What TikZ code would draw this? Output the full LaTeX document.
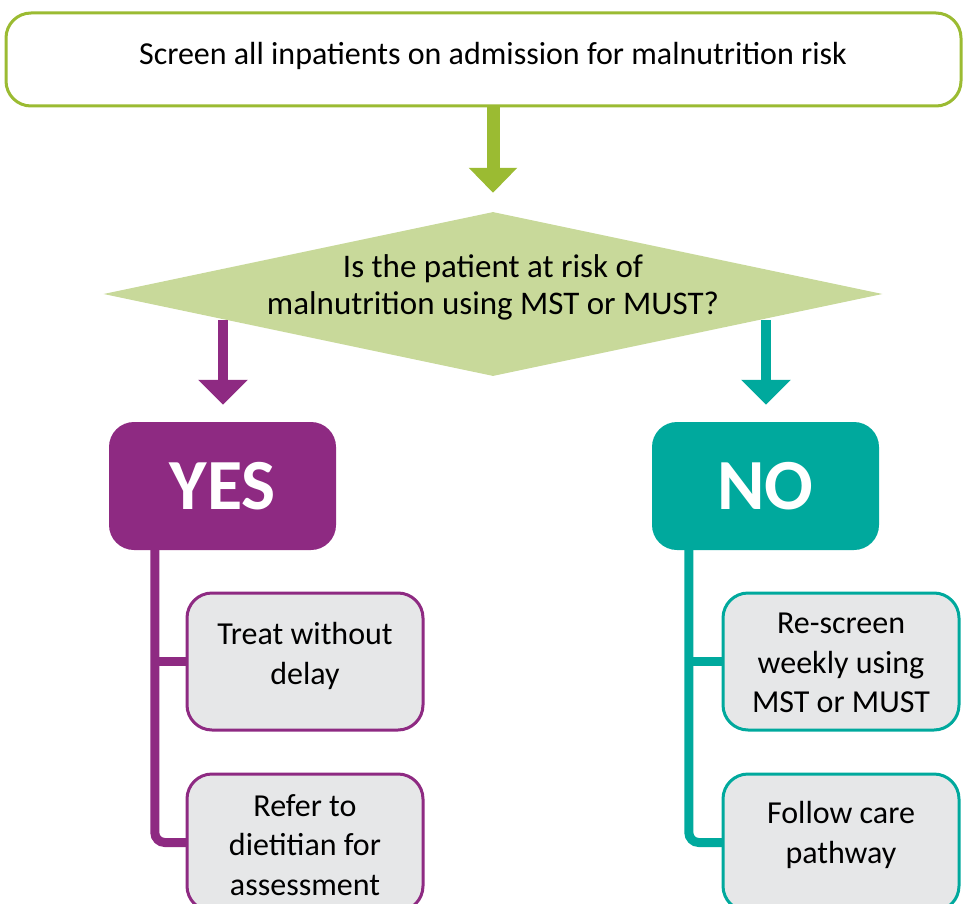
\documentclass[tikz,border=0pt]{standalone}
\usepackage{fontspec}
\setmainfont{Carlito}
\usetikzlibrary{shapes.geometric,arrows.meta}
\definecolor{cgreen}{RGB}{155,187,50}
\definecolor{cdiam}{RGB}{200,217,154}
\definecolor{cpurple}{RGB}{142,42,130}
\definecolor{cteal}{RGB}{0,169,157}
\definecolor{cgrey}{RGB}{230,231,232}
\tikzset{
  topbox/.style={draw=cgreen,line width=3pt,rounded corners=25pt,fill=white,minimum width=955pt,minimum height=93pt,inner sep=0pt},
  bigbox/.style={rounded corners=25pt,minimum width=227pt,minimum height=128pt,inner sep=0pt,text=white,font=\fontsize{72}{80}\selectfont\bfseries},
  subbox/.style={draw=#1,fill=cgrey,line width=3pt,rounded corners=25pt,minimum width=236pt,minimum height=137pt,inner sep=0pt},
  boxtext/.style={align=center,inner sep=0pt,font=\fontsize{32}{39.5}\selectfont},
  bigarrow/.style={draw=#1,line width=10pt,-{Triangle[width=48pt,length=25pt]}},
  stem/.style={draw=#1,line width=9pt},
}
\begin{document}
\begin{tikzpicture}[x=1pt,y=1pt]
\useasboundingbox (0,0) rectangle (963,-904);
% top box
\node[topbox] (screen) at (483.5,-59.5) {};
\node[boxtext,font=\fontsize{32}{38}\selectfont] (screentext) at (493,-56) {Screen all inpatients on admission for malnutrition risk};
% diamond
\node[diamond,fill=cdiam,inner sep=0pt,minimum width=779pt,minimum height=164pt] (question) at (493,-294) {};
\node[boxtext,font=\fontsize{33}{37}\selectfont] (qtext) at (493,-287) {Is the patient at risk of\\malnutrition using MST or MUST?};
% arrow top
\draw[bigarrow=cgreen,line width=13pt,-{Triangle[width=47pt,length=25pt]}] (screen.south -| question.north) -- ([yshift=19pt]question.north);
% yes / no
\node[bigbox,fill=cpurple] (yes) at (222.5,-486) {YES};
\node[bigbox,fill=cteal] (no) at (765.5,-486) {NO};
\coordinate (yesstart) at (223,-320);
\coordinate (nostart) at (766,-320);
\draw[bigarrow=cpurple] (yesstart) -- ([yshift=17pt]yes.north -| yesstart);
\draw[bigarrow=cteal] (nostart) -- ([yshift=17pt]no.north -| nostart);
% sub boxes
\node[subbox=cpurple] (treat) at (305,-661.5) {};
\node[boxtext] (treattext) at (305,-656) {Treat without\\delay};
\node[subbox=cpurple] (refer) at (305,-842.5) {};
\node[boxtext] (refertext) at (305,-845) {Refer to\\dietitian for\\assessment};
\node[subbox=cteal] (rescreen) at (841,-661.5) {};
\node[boxtext] (rescreentext) at (841,-663) {Re-screen\\weekly using\\MST or MUST};
\node[subbox=cteal] (follow) at (841,-842.5) {};
\node[boxtext] (followtext) at (841,-835) {Follow care\\pathway};
% stems
\draw[stem=cpurple,rounded corners=10pt] ([xshift=46pt]yes.south west) |- ([xshift=1.5pt]refer.west);
\draw[stem=cpurple] ([xshift=46pt]yes.south west |- treat.west) -- ([xshift=1.5pt]treat.west);
\draw[stem=cteal,rounded corners=10pt] ([xshift=37pt]no.south west) |- ([xshift=1.5pt]follow.west);
\draw[stem=cteal] ([xshift=37pt]no.south west |- rescreen.west) -- ([xshift=1.5pt]rescreen.west);
\end{tikzpicture}
\end{document}
